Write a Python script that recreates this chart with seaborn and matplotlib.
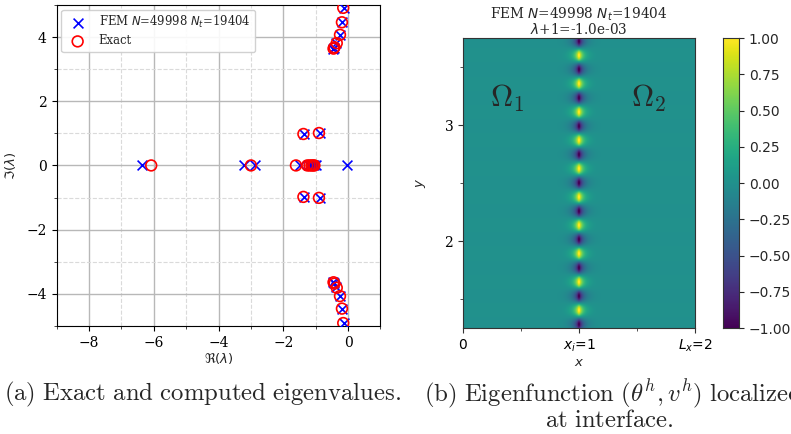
import numpy as np
import seaborn as sns
import matplotlib.pyplot as plt
from matplotlib.ticker import MultipleLocator

fem_re = [-6.37, -3.22, -2.86, -1.48, -1.20, -1.12, -1.05, -0.99, -0.02,
          -1.37, -0.88, -0.46, -0.43, -0.36, -0.25, -0.19, -0.14,
          -1.37, -0.88, -0.46, -0.43, -0.36, -0.25, -0.19, -0.14]
fem_im = [0, 0, 0, 0, 0, 0, 0, 0, 0,
          0.98, 1.01, 3.62, 3.67, 3.80, 4.06, 4.46, 4.91,
          -0.98, -1.01, -3.62, -3.67, -3.80, -4.06, -4.46, -4.91]
exact_re = [-6.08, -3.00, -1.61, -1.26, -1.19, -1.13, -1.08, -1.04,
            -1.38, -0.90, -0.45, -0.42, -0.35, -0.25, -0.19, -0.15,
            -1.38, -0.90, -0.45, -0.42, -0.35, -0.25, -0.19, -0.15]
exact_im = [0, 0, 0, 0, 0, 0, 0, 0,
            0.98, 1.01, 3.64, 3.68, 3.81, 4.07, 4.46, 4.91,
            -0.98, -1.01, -3.64, -3.68, -3.81, -4.07, -4.46, -4.91]

# eigenfunction on the domain [0, Lx] x [y_lo, y_hi]
Lx, xi = 2.0, 1.0
y_lo, y_hi = 1.25, 3.75
period = 0.245      # spacing of the yellow peaks along the interface
y_peak = 1.40       # one yellow peak
nx, ny = 232, 290

sns.set_style("ticks")
plt.rcParams["font.family"] = ["DejaVu Serif", "DejaVu Sans"]
plt.rcParams["mathtext.fontset"] = "dejavusans"

fig = plt.figure(figsize=(7.91, 4.34), dpi=100)

# ---------------- (a) eigenvalues ----------------
ax = fig.add_axes([0.0716, 0.249, 0.4094, 0.7396])
ax.set_axisbelow(True)
ax.grid(which="major", color="#b8b8b8", lw=1.0)
ax.grid(which="minor", color="#dadada", lw=0.8, ls="--")
sns.scatterplot(x=fem_re, y=fem_im, marker="x", color="blue", s=50,
                linewidth=1.2, label="FEM $N$=49998 $N_t$=19404", ax=ax, zorder=3)
sns.scatterplot(x=exact_re, y=exact_im, marker="o", facecolors="none",
                edgecolor="red", s=60, linewidth=1.2, label="Exact", ax=ax, zorder=4)
ax.set_xlim(-9, 1)
ax.set_ylim(-5, 5)
ax.xaxis.set_major_locator(MultipleLocator(2))
ax.xaxis.set_minor_locator(MultipleLocator(1))
ax.yaxis.set_major_locator(MultipleLocator(2))
ax.yaxis.set_minor_locator(MultipleLocator(1))
ax.tick_params(labelsize=10, colors="black")
ax.set_xlabel(r"$\Re(\lambda)$", fontsize=9.5, labelpad=1)
ax.set_ylabel(r"$\Im(\lambda)$", fontsize=9.5, labelpad=6)
for s in ax.spines.values():
    s.set_color("black")
ax.legend(loc="upper left", fontsize=8.4, handletextpad=0.8, borderaxespad=0.4,
          borderpad=0.4, labelspacing=0.35, framealpha=0.9, edgecolor="#cccccc")

# ---------------- (b) eigenfunction ----------------
xc = np.linspace(0, Lx, nx)
yc = np.linspace(y_hi, y_lo, ny)
X, Y = np.meshgrid(xc, yc)
k = 2 * np.pi / period
field = np.exp(-k * np.abs(X - xi)) * np.cos(k * (Y - y_peak))
field = field / np.abs(field).max()

ax2 = fig.add_axes([0.5853, 0.244, 0.2933, 0.668])
cax = fig.add_axes([0.914, 0.244, 0.0202, 0.668])
sns.heatmap(field, cmap="viridis", vmin=-1, vmax=1, ax=ax2, cbar_ax=cax,
            xticklabels=False, yticklabels=False, rasterized=True)
for s in ax2.spines.values():
    s.set_visible(True)
    s.set_color("#333333")
ax2.set_xlim(0, nx)
ax2.set_ylim(ny, 0)


def xpos(v):
    return (v - 0) / Lx * nx


def ypos(v):
    return (y_hi - v) / (y_hi - y_lo) * ny


ax2.set_xticks([xpos(0), xpos(xi), xpos(Lx)])
ax2.set_xticklabels(["0", "$x_i$=1", "$L_x$=2"], fontsize=10, family="DejaVu Sans")
ax2.set_xticks([xpos(0.5), xpos(1.5)], minor=True)
ax2.set_yticks([ypos(3), ypos(2)])
ax2.set_yticklabels(["3", "2"], fontsize=10, rotation=0)
ax2.set_yticks([ypos(3.5), ypos(2.5), ypos(1.5)], minor=True)
ax2.tick_params(which="both", direction="out", length=3.5, colors="#333333",
                labelcolor="black")
ax2.tick_params(which="minor", length=2.5)
ax2.set_xlabel("$x$", fontsize=9.5, labelpad=1)
ax2.set_ylabel("$y$", fontsize=9.5, labelpad=12)
ax2.set_title("FEM $N$=49998 $N_t$=19404\n$\\lambda$+1=-1.0e-03",
              fontsize=9.8, pad=3, linespacing=0.95)
ax2.text(xpos(0.38), ypos(3.23), r"$\Omega_1$", fontsize=22, math_fontfamily="cm",
         ha="center", va="center")
ax2.text(xpos(1.6), ypos(3.23), r"$\Omega_2$", fontsize=22, math_fontfamily="cm",
         ha="center", va="center")

cb_ticks = [-1, -0.75, -0.5, -0.25, 0, 0.25, 0.5, 0.75, 1]
cax.tick_params(labelsize=10, length=3.5)
cax.set_yticks(cb_ticks)
cax.set_yticklabels([f"{v:.2f}".replace("-", "\u2212") for v in cb_ticks],
                    family="DejaVu Sans")
for s in cax.spines.values():
    s.set_visible(True)
    s.set_color("#333333")

# ---------------- captions ----------------
fig.text(0.005, 0.092, r"$\mathrm{(a)\ Exact\ and\ computed\ eigenvalues.}$",
         fontsize=17.8, math_fontfamily="cm", va="center", ha="left")
fig.text(0.536, 0.092, r"$\mathrm{(b)\ Eigenfunction\ }(\theta^h, v^h)\mathrm{\ localized}$",
         fontsize=17.8, math_fontfamily="cm", va="center", ha="left")
fig.text(0.770, 0.032, r"$\mathrm{at\ interface.}$",
         fontsize=17.8, math_fontfamily="cm", va="center", ha="center")

fig.savefig("out.png", dpi=100)
